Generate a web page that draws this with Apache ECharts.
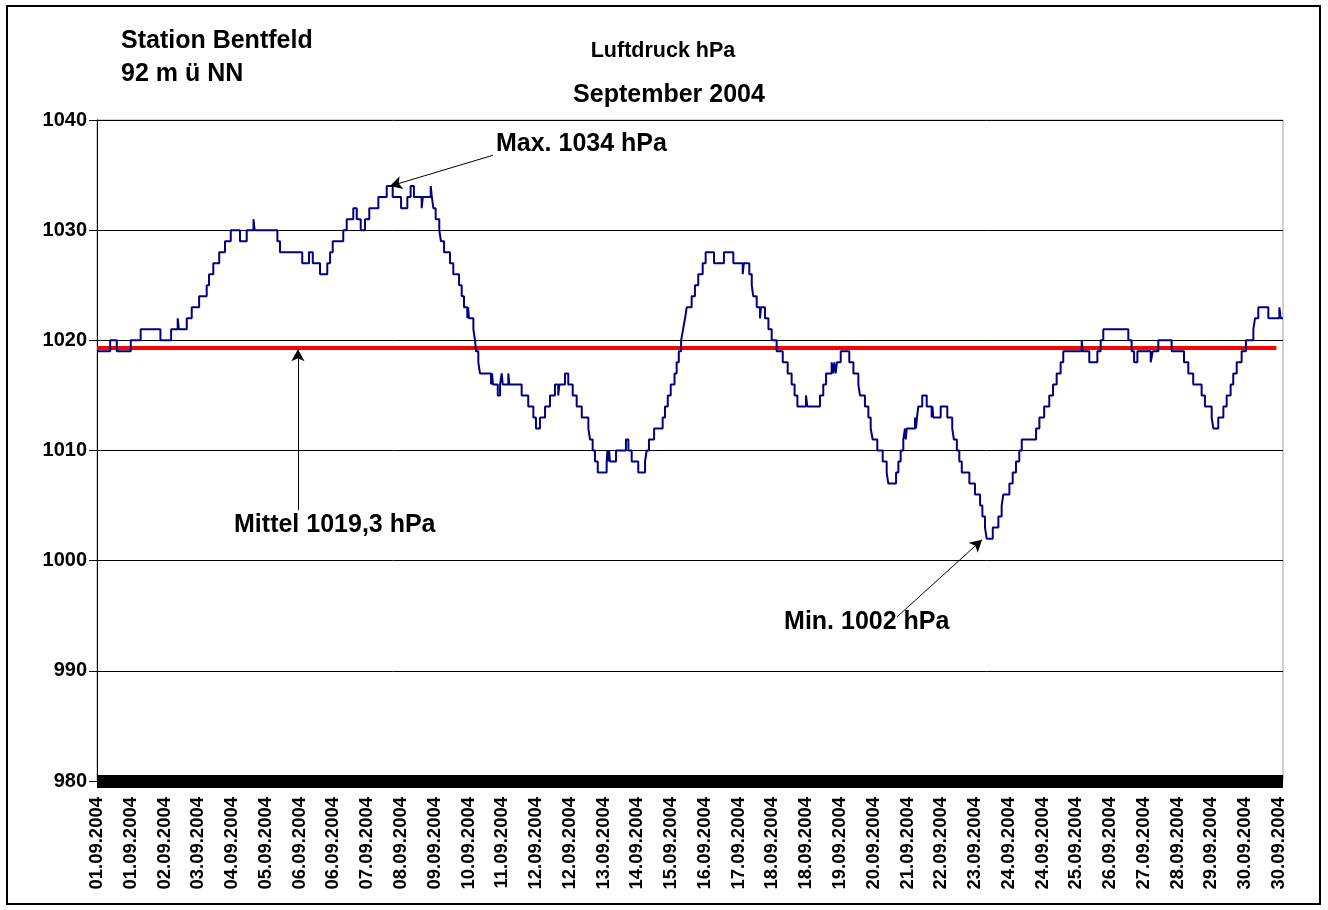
<!DOCTYPE html>
<html>
<head>
<meta charset="utf-8">
<script src="https://cdn.jsdelivr.net/npm/echarts@6/dist/echarts.min.js"></script>
<style>
html,body{margin:0;padding:0;background:#fff;}
#chart{width:1328px;height:910px;}
</style>
</head>
<body>
<div id="chart"></div>
<script>
// ---- data ----
// x tick labels (one every 20.5 hours of the month)
var tickLabels = ["01.09.2004","01.09.2004","02.09.2004","03.09.2004","04.09.2004","05.09.2004",
  "06.09.2004","06.09.2004","07.09.2004","08.09.2004","09.09.2004","10.09.2004","11.09.2004",
  "12.09.2004","12.09.2004","13.09.2004","14.09.2004","15.09.2004","16.09.2004","17.09.2004",
  "18.09.2004","18.09.2004","19.09.2004","20.09.2004","21.09.2004","22.09.2004","23.09.2004",
  "24.09.2004","24.09.2004","25.09.2004","26.09.2004","27.09.2004","28.09.2004","29.09.2004",
  "30.09.2004","30.09.2004"];
var tickStepHours = 20.5;
var monthHours = 720;
var yTicks = [980, 990, 1000, 1010, 1020, 1030, 1040];

// air pressure: [hour since 01.09. 00:00, hPa] - value holds until next entry
var pressureSteps = [
[0,1019],[8,1020],[12,1019],[20.5,1020],[26.5,1021],[38.5,1020],[45,1021],[49,1022],[49.7,1021],
[54.5,1022],[57.5,1023],[62,1024],[66.6,1025],[68,1026],[70.6,1027],[74.2,1028],[77.7,1029],
[81.2,1030],[86.8,1029],[90.9,1030],[95,1031],[95.7,1030],[109.5,1029],[111.1,1028],[124.6,1027],
[128.7,1028],[131,1027],[135.4,1026],[139.8,1027],[141.5,1028],[143.1,1029],[149.5,1030],
[151.6,1031],[155.6,1032],[157.7,1031],[160.1,1030],[162.7,1031],[165.3,1032],[170.8,1033],
[175.9,1034],[179.5,1033],[184.6,1032],[188.4,1033],[190.4,1034],[192.4,1033],[197.1,1032],
[197.8,1033],[202.6,1034],[203.3,1033],[204.2,1032],[205.6,1031],[207.8,1030],[208.8,1029],
[210.7,1028],[214.3,1027],[216.3,1026],[219.8,1025],[221.4,1024],[222.8,1023],[224.8,1022],
[225.3,1023],[225.8,1022],[228.5,1021],[229.5,1020],[230.1,1019],[231.5,1018],[232.5,1017],
[239.2,1016],[239.8,1017],[240.4,1016],[243.3,1015],[244.7,1016],[245.7,1017],[246.3,1016],
[249.7,1017],[250.3,1016],[257.8,1015],[261.8,1014],[264.9,1013],[266.5,1012],[268.9,1013],
[272,1014],[275,1015],[278,1016],[280,1015],[280.7,1016],[284.1,1017],[286.1,1016],[288.8,1015],
[291.2,1014],[294.3,1013],[298.3,1012],[299.3,1011],[300.9,1010],[302.3,1009],[304,1008],
[309.4,1009],[309.9,1010],[310.4,1009],[310.9,1010],[311.4,1009],[315.1,1010],[321.1,1011],
[322.6,1010],[324.6,1009],[328.6,1008],[332.7,1009],[333.7,1010],[335.1,1011],[338.2,1012],
[343.4,1013],[344.8,1014],[346.5,1015],[348.3,1016],[350.6,1017],[351.9,1018],[353.2,1019],
[354.6,1020],[355.8,1021],[357,1022],[358,1023],[361,1024],[363,1025],[365,1026],[367.7,1027],
[369.5,1028],[374.6,1027],[380.6,1028],[386.3,1027],[392,1026],[392.7,1027],[396,1026],
[397.5,1025],[398.4,1024],[400.5,1023],[402.5,1022],[403.1,1023],[405.5,1022],[407.6,1021],
[409.6,1020],[412.6,1019],[416.3,1018],[419.3,1017],[421.7,1016],[423.5,1015],[425.2,1014],
[430.4,1015],[431.2,1014],[438.9,1015],[440.9,1016],[442.6,1017],[446,1018],[446.8,1017],
[447.6,1018],[448.4,1017],[449.2,1018],[451.5,1019],[456.7,1018],[459.2,1017],[462.2,1016],
[463.2,1015],[466.2,1014],[468.3,1013],[469.7,1012],[470.9,1011],[473.7,1010],[477,1009],
[479.4,1008],[480.4,1007],[485.1,1008],[486.5,1009],[487.9,1010],[489.5,1011],[490.5,1012],
[491,1011],[491.6,1012],[496.6,1013],[497.2,1012],[497.8,1013],[498.6,1014],[501,1015],
[503.7,1014],[506.7,1013],[507.2,1014],[507.7,1013],[512.2,1014],[516.2,1013],[519.2,1012],
[520.2,1011],[522,1010],[523.5,1009],[525,1008],[529.6,1007],[533,1006],[536.1,1005],
[537.5,1004],[539.1,1003],[540.1,1002],[543.8,1003],[547.2,1004],[549.2,1005],[550.2,1006],
[553.9,1007],[555.9,1008],[557.9,1009],[559.9,1010],[561.4,1011],[570.1,1012],[572.1,1013],
[575,1014],[578.1,1015],[580.4,1016],[582.6,1017],[585,1018],[586.6,1019],[597.8,1020],
[598.4,1019],[602.4,1018],[607.3,1019],[609.3,1020],[610.9,1021],[626.1,1020],[628.1,1019],
[629.6,1018],[631.6,1019],[639.7,1018],[640.9,1019],[644.3,1020],[652.4,1019],[659.9,1018],
[662.5,1017],[665.5,1016],[670.6,1015],[672.6,1014],[676.7,1013],[677.7,1012],[680.7,1013],
[683.8,1014],[685.8,1015],[688.2,1016],[689.8,1017],[691.9,1018],[694.9,1019],[697.5,1020],
[702,1021],[703,1022],[705,1023],[711.1,1022],[717.8,1023],[718.6,1022],[720,1022]
];
// monthly mean
var meanValue = 1019.3;
var meanHours = [0, 716];

// annotations: text anchor [hour, hPa], arrow from -> to [hour, hPa]
var annotTexts = ["Max. 1034 hPa", "Mittel 1019,3 hPa", "Min. 1002 hPa"];
var annotTextAt = [[242.2, 1038.0], [83.2, 1003.4], [417.1, 994.6]];
var annotArrowFrom = [[240.4, 1036.8], [122.0, 1004.6], [485.7, 994.9]];
var annotArrowTo = [[177.9, 1034.0], [122.0, 1019.2], [537.3, 1001.9]];

// ---- chart ----
var FONT = "'Liberation Sans', Arial, Helvetica, sans-serif";
var chart = echarts.init(document.getElementById('chart'), null, {renderer: 'canvas'});

var arrowLines = annotArrowFrom.map(function (f, i) {
  return [{coord: f}, {coord: annotArrowTo[i]}];
});

var option = {
  animation: false,
  backgroundColor: '#ffffff',
  grid: {left: 97, right: 45, top: 120, bottom: 129, show: true, borderColor: '#a0a0a0', borderWidth: 1},
  xAxis: {
    type: 'value', min: 0, max: monthHours, interval: tickStepHours,
    axisLine: {show: true, onZero: false, lineStyle: {color: '#000', width: 13, cap: 'butt'}},
    axisTick: {show: false},
    splitLine: {show: false},
    axisLabel: {
      rotate: 90, margin: 16, color: '#000', fontFamily: FONT, fontWeight: 'bold', fontSize: 18.5,
      formatter: function (v) {
        var idx = Math.round(v / tickStepHours);
        if (Math.abs(v - idx * tickStepHours) < 0.01 && idx < tickLabels.length) return tickLabels[idx];
        return '';
      }
    }
  },
  yAxis: {
    type: 'value', min: yTicks[0], max: yTicks[yTicks.length - 1], interval: 10,
    axisLine: {show: true, lineStyle: {color: '#000', width: 1}},
    axisTick: {show: true, length: 8, lineStyle: {color: '#000'}},
    splitLine: {show: true, lineStyle: {color: '#000', width: 1}},
    axisLabel: {color: '#000', fontFamily: FONT, fontWeight: 'bold', fontSize: 20, margin: 10,
      formatter: function (v) { return String(v); }}
  },
  series: [
    {
      name: 'Mittel', type: 'line', showSymbol: false, silent: true,
      data: meanHours.map(function (h) { return [h, meanValue]; }),
      lineStyle: {color: '#ff0000', width: 4, cap: 'butt'}, z: 2
    },
    {
      name: 'Luftdruck', type: 'line', step: 'end', showSymbol: false, silent: true,
      data: pressureSteps,
      lineStyle: {color: '#000080', width: 2}, z: 3,
      markLine: {
        silent: true, symbol: ['none', 'arrow'], symbolSize: [10, 12],
        label: {show: false},
        lineStyle: {color: '#000', width: 1, type: 'solid'},
        data: arrowLines
      }
    }
  ]
};
chart.setOption(option);

function txt(x, y, s, size, align) {
  return {type: 'text', x: x, y: y, silent: true,
    style: {text: s, fill: '#000', font: 'bold ' + size + 'px ' + FONT, textAlign: align || 'left', textVerticalAlign: 'middle'}};
}
var g = [
  {type: 'rect', silent: true, shape: {x: 7, y: 6, width: 1313, height: 898},
    style: {fill: 'none', stroke: '#000', lineWidth: 2}},
  txt(121, 41, 'Station Bentfeld', 25),
  txt(121, 74, '92 m ü NN', 25),
  txt(663, 51, 'Luftdruck hPa', 21.5, 'center'),
  txt(669, 95, 'September 2004', 25, 'center')
];
annotTextAt.forEach(function (p, i) {
  var px = chart.convertToPixel({gridIndex: 0}, p);
  g.push(txt(px[0], px[1] + 2, annotTexts[i], 25));
});
chart.setOption({graphic: g});
</script>
</body>
</html>
